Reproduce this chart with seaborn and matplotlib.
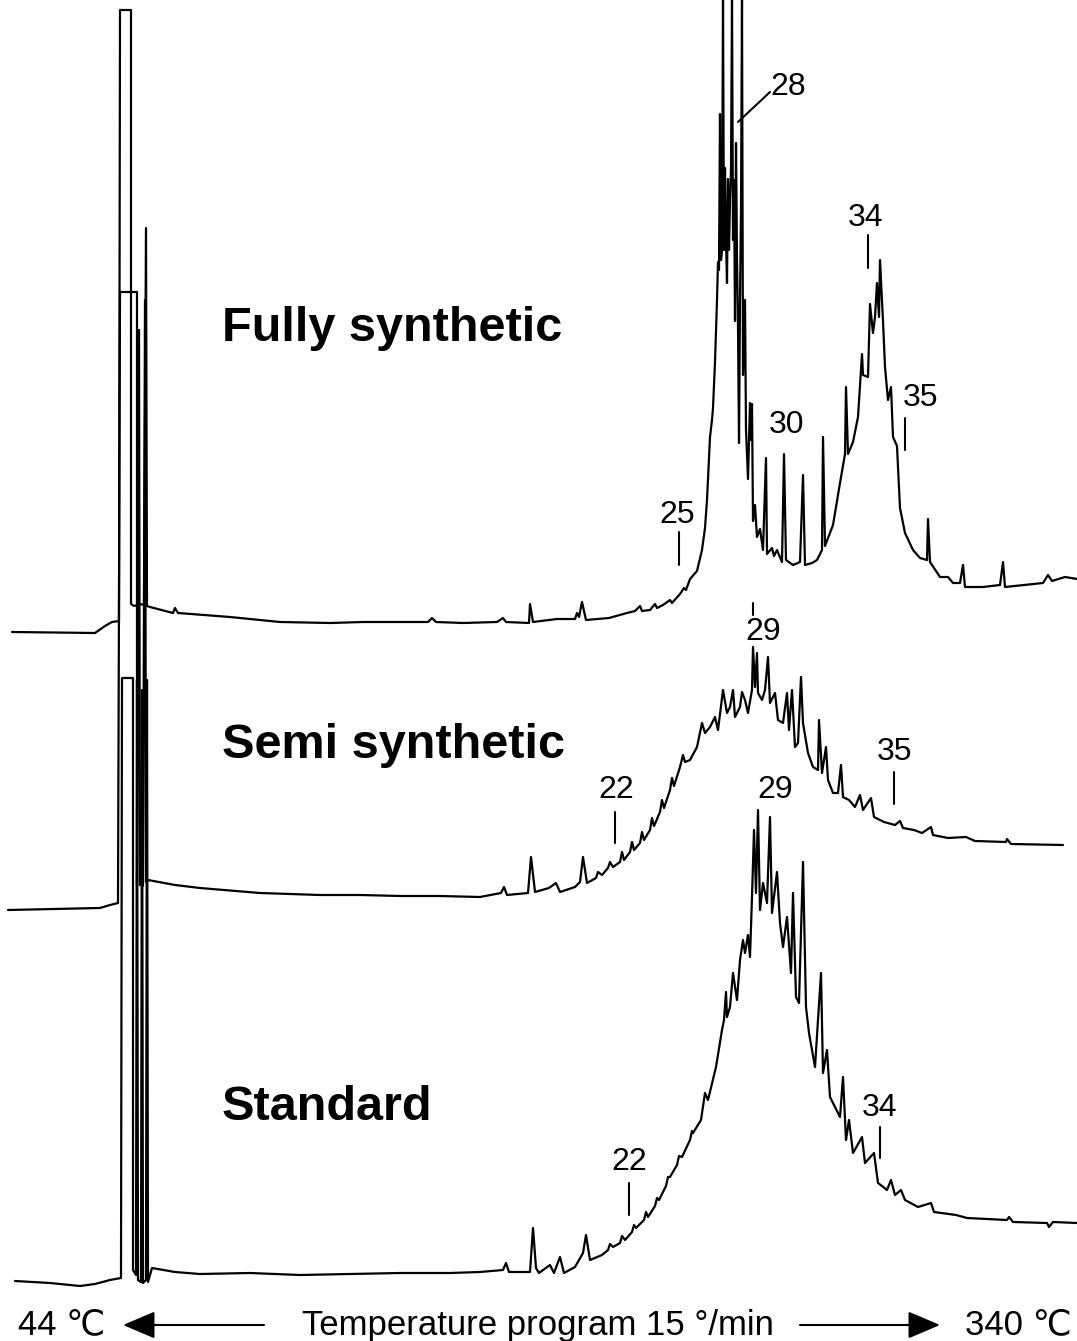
"""
GC traces of three engine oils (fully synthetic, semi synthetic, standard)
redrawn from the scanned chromatogram.
"""
import matplotlib.pyplot as plt
import pandas as pd
import seaborn as sns

# ---------------------------------------------------------------------------
# Traces (x = retention position, y = detector row, down = low)
# ---------------------------------------------------------------------------
FULLY = [
    (12, 632), (95, 633), (105, 626), (112, 622), (119, 621),
    (120, 10), (131, 10), (131, 604), (134, 606), (137, 605), (140, 604),
    (144, 605), (146, 228), (147, 606), (150, 607), (173, 613), (175, 608),
    (178, 613), (230, 617), (280, 622), (330, 623), (363, 622), (428, 622),
    (432, 618), (436, 622), (463, 623), (497, 622), (503, 618), (506, 622),
    (529, 623), (530, 604), (533, 622), (557, 619), (575, 619), (577, 613),
    (579, 617), (582, 602), (586, 620), (609, 618), (627, 613), (635, 611),
    (640, 606), (642, 611), (650, 610), (655, 604), (657, 608), (663, 605),
    (670, 600), (672, 603), (680, 594), (684, 588), (686, 590), (690, 579),
    (697, 571), (702, 550), (705, 528), (707, 500), (710, 437), (712, 420),
    (713, 408), (715, 362), (717, 300), (718, 262), (719, 270), (720, 114),
    (721, 260), (722, 250), (723, 0), (724, 250), (725, 168), (726, 240),
    (727, 283), (728, 179), (729, 250), (730, 200), (731, 170), (732, 0),
    (733, 240), (734, 180), (735, 321), (736, 143), (737, 260), (738, 325),
    (739, 443), (740, 300), (741, 210), (742, 0), (743, 375), (745, 300),
    (746, 430), (748, 479), (750, 403), (751, 440), (752, 404), (753, 521),
    (755, 505), (757, 537), (760, 529), (763, 550), (766, 458), (767, 554),
    (772, 548), (774, 556), (777, 550), (782, 562), (784, 454), (786, 560),
    (793, 565), (800, 562), (803, 475), (805, 565), (812, 563), (817, 560),
    (822, 550), (823, 437), (825, 546), (833, 525), (840, 483), (845, 454),
    (846, 387), (848, 454), (853, 442), (858, 417), (862, 354), (863, 375),
    (868, 377), (870, 304), (873, 333), (875, 317), (877, 283), (879, 317),
    (880, 260), (883, 321), (885, 367), (888, 400), (891, 387), (893, 437),
    (897, 446), (898, 467), (900, 508), (905, 533), (913, 550), (920, 558),
    (927, 560), (928, 519), (930, 562), (940, 577), (948, 577), (953, 583),
    (960, 583), (963, 565), (965, 587), (983, 587), (1000, 585), (1003, 562),
    (1005, 587), (1043, 583), (1048, 575), (1052, 581), (1065, 577),
    (1077, 579),
]

SEMI = [
    (8, 910), (100, 908), (110, 905), (118, 903),
    (120, 292), (137, 292), (137, 885), (139, 330), (140, 885), (143, 886),
    (145, 300), (146, 882), (148, 880), (175, 885), (200, 888), (260, 893),
    (320, 895), (360, 895), (400, 896), (440, 896), (480, 897), (501, 893),
    (504, 887), (507, 895), (528, 893), (531, 857), (535, 892), (549, 888),
    (556, 883), (560, 892), (575, 887), (580, 882), (583, 857), (587, 883),
    (596, 878), (598, 872), (602, 875), (608, 868), (610, 862), (613, 867),
    (620, 862), (622, 852), (624, 860), (630, 852), (632, 842), (634, 850),
    (640, 843), (642, 832), (644, 840), (650, 830), (652, 818), (654, 826),
    (660, 812), (662, 800), (664, 808), (670, 790), (672, 778), (674, 786),
    (680, 767), (683, 755), (685, 762), (690, 760), (697, 747), (702, 723),
    (705, 733), (710, 727), (715, 717), (718, 730), (723, 690), (727, 713),
    (730, 707), (733, 690), (735, 717), (740, 707), (742, 692), (745, 700),
    (748, 713), (752, 690), (753, 647), (755, 687), (757, 653), (758, 693),
    (762, 700), (765, 690), (768, 657), (770, 703), (775, 693), (778, 720),
    (783, 723), (787, 693), (789, 730), (792, 690), (795, 747), (798, 743),
    (801, 677), (803, 723), (808, 753), (813, 767), (818, 770), (819, 720),
    (822, 773), (826, 747), (828, 780), (833, 793), (838, 793), (841, 765),
    (843, 797), (849, 800), (855, 807), (860, 795), (863, 810), (871, 798),
    (874, 817), (884, 822), (895, 825), (900, 821), (903, 828), (914, 830),
    (922, 833), (931, 827), (933, 835), (948, 838), (966, 837), (975, 841),
    (1006, 842), (1007, 839), (1011, 844), (1063, 845),
]

STANDARD = [
    (15, 1281), (50, 1283), (80, 1286), (95, 1284), (110, 1280), (121, 1278),
    (122, 678), (133, 678), (133, 1270), (136, 1275), (137, 680), (138, 1280),
    (141, 1282), (142, 690), (143, 1283), (146, 1280), (147, 680),
    (148, 1282), (150, 1275), (152, 1268), (175, 1272), (200, 1274),
    (250, 1273), (300, 1275), (350, 1274), (400, 1273), (450, 1273),
    (480, 1272), (503, 1270), (506, 1263), (509, 1272), (530, 1272),
    (533, 1228), (536, 1268), (539, 1273), (543, 1270), (550, 1265),
    (554, 1273), (560, 1257), (564, 1273), (575, 1267), (583, 1253),
    (586, 1235), (590, 1260), (602, 1255), (608, 1250), (610, 1244),
    (613, 1247), (620, 1243), (622, 1236), (625, 1240), (632, 1232),
    (634, 1225), (636, 1228), (644, 1220), (646, 1212), (648, 1217),
    (655, 1206), (657, 1198), (659, 1200), (666, 1186), (668, 1177),
    (670, 1177), (677, 1165), (679, 1156), (682, 1157), (690, 1140),
    (692, 1131), (693, 1133), (701, 1120), (705, 1093), (708, 1100),
    (716, 1067), (722, 1030), (724, 1020), (726, 992), (727, 1017),
    (730, 1007), (733, 973), (737, 1000), (740, 960), (743, 940),
    (745, 953), (748, 935), (750, 957), (752, 897), (754, 830), (756, 893),
    (758, 810), (760, 910), (763, 883), (767, 903), (770, 817), (772, 913),
    (777, 872), (780, 923), (783, 947), (787, 917), (791, 973), (793, 893),
    (796, 997), (799, 1003), (803, 862), (806, 1007), (809, 1033),
    (815, 1067), (821, 973), (823, 1073), (827, 1050), (830, 1097),
    (840, 1117), (843, 1077), (846, 1140), (849, 1120), (853, 1153),
    (862, 1137), (865, 1163), (874, 1153), (878, 1183), (887, 1190),
    (891, 1180), (895, 1195), (901, 1190), (905, 1200), (918, 1207),
    (931, 1203), (934, 1212), (956, 1215), (967, 1218), (1007, 1220),
    (1009, 1217), (1013, 1222), (1047, 1223), (1049, 1227), (1053, 1222),
    (1077, 1223),
]

# carbon-number markers: (label, tick x, tick top, tick bottom, text x, text y)
MARKERS = [
    ("25", 679, 532, 565, 677, 515),
    ("34", 868, 235, 268, 866, 218),
    ("35", 905, 418, 450, 921, 398),
    ("29", 753, 603, 615, 763, 632),
    ("22", 615, 812, 843, 616, 790),
    ("35", 894, 772, 804, 895, 752),
    ("22", 629, 1183, 1215, 629, 1162),
    ("34", 880, 1127, 1158, 880, 1108),
]
PLAIN_LABELS = [("30", 787, 425), ("29", 775, 790)]
SAMPLE_NAMES = [("Fully synthetic", 328), ("Semi synthetic", 745), ("Standard", 1108)]

# ---------------------------------------------------------------------------
# Figure
# ---------------------------------------------------------------------------
sns.set_style("white")
plt.rcParams["font.family"] = ["Liberation Sans", "DejaVu Sans"]
plt.rcParams["text.color"] = "black"

frames = []
for name, pts in [("fully", FULLY), ("semi", SEMI), ("standard", STANDARD)]:
    df = pd.DataFrame(pts, columns=["x", "y"])
    df["trace"] = name
    frames.append(df)
traces = pd.concat(frames, ignore_index=True)

fig = plt.figure(figsize=(10.77, 13.41), dpi=100)
ax = fig.add_axes([0, 0, 1, 1])
sns.lineplot(
    data=traces, x="x", y="y", units="trace", estimator=None, sort=False,
    color="black", lw=1.6, ax=ax,
)
ax.set_xlim(0, 1077)
ax.set_ylim(1341, 0)
ax.axis("off")

for lab, tx, t0, t1, lx, ly in MARKERS:
    ax.plot([tx, tx], [t0, t1], color="black", lw=1.5)
    ax.text(lx, ly, lab, fontsize=23, ha="center", va="center")
for lab, lx, ly in PLAIN_LABELS:
    ax.text(lx, ly, lab, fontsize=23, ha="center", va="center")

# leader for 28
ax.plot([770, 738], [92, 122], color="black", lw=1.5)
ax.text(788, 87, "28", fontsize=23, ha="center", va="center")

for name, ly in SAMPLE_NAMES:
    ax.text(222, ly, name, fontsize=35, fontweight="bold", ha="left", va="center")

# temperature program along the bottom
ax.text(62, 1325, "44 \u2103", fontsize=25, ha="center", va="center")
ax.text(538, 1325, "Temperature program 15 \u00b0/min", fontsize=25,
        ha="center", va="center")
ax.text(1018, 1325, "340 \u2103", fontsize=25, ha="center", va="center")
arrow = dict(arrowstyle="-|>,head_length=2.0,head_width=0.85", color="black",
             lw=1.5, shrinkA=0, shrinkB=0, mutation_scale=10)
ax.annotate("", xy=(123, 1325), xytext=(264, 1325), arrowprops=arrow)
ax.annotate("", xy=(940, 1325), xytext=(800, 1325), arrowprops=arrow)

fig.savefig("out.png", dpi=100)
